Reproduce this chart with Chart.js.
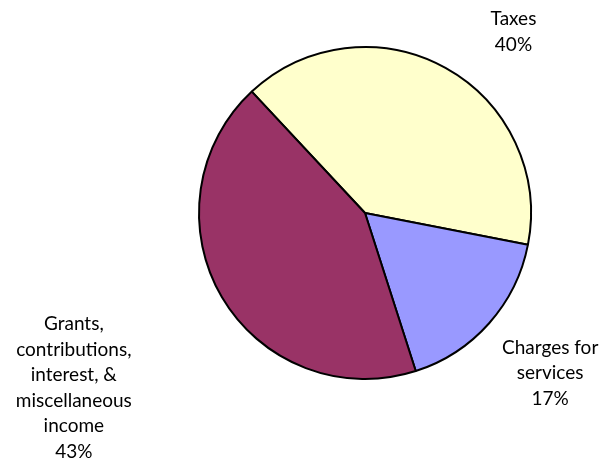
<!DOCTYPE html>
<html>
<head>
<meta charset="utf-8">
<script src="https://cdn.jsdelivr.net/npm/chart.js@4"></script>
<style>
  html, body { margin: 0; padding: 0; background: #fff; }
  #wrap { width: 605px; height: 462px; }
</style>
</head>
<body>
<div id="wrap"><canvas id="revenueChart"></canvas></div>
<script>
// Revenue sources
const categories = [
    ['Taxes'],
    ['Charges for', 'services'],
    ['Grants,', 'contributions,', 'interest, &', 'miscellaneous', 'income']
];
const shares = [40, 17, 43];
const sliceColors = ['#FFFFCC', '#9999FF', '#993366'];

// where each label sits, relative to the slice's outer edge at its mid angle
const labelShift = [[68, -36], [61, 50], [-148, 91]];

const outsideLabels = {
    id: 'outsideLabels',
    afterDatasetsDraw(chart) {
        const c = chart.ctx;
        const meta = chart.getDatasetMeta(0);
        c.save();
        c.font = '19px Lato';
        c.fillStyle = '#000';
        c.textAlign = 'center';
        c.textBaseline = 'middle';
        const lineH = 25.5;
        meta.data.forEach((arc, i) => {
            const p = arc.getProps(['x', 'y', 'startAngle', 'endAngle', 'outerRadius'], true);
            const mid = (p.startAngle + p.endAngle) / 2;
            const ax = p.x + Math.cos(mid) * p.outerRadius + labelShift[i][0];
            const ay = p.y + Math.sin(mid) * p.outerRadius + labelShift[i][1];
            const lines = categories[i].concat([shares[i] + '%']);
            const top = ay - (lines.length - 1) * lineH / 2;
            lines.forEach((t, k) => c.fillText(t, ax, top + k * lineH));
        });
        c.restore();
    }
};

const ctx = document.getElementById('revenueChart').getContext('2d');
const revenueChart = new Chart(ctx, {
    type: 'pie',
    data: {
        labels: categories.map(l => l.join(' ')),
        datasets: [{
            data: shares,
            backgroundColor: sliceColors,
            borderColor: '#000',
            borderWidth: 2
        }]
    },
    options: {
        responsive: true,
        maintainAspectRatio: false,
        animation: false,
        rotation: -43,
        radius: 166,
        layout: { padding: { left: 125, right: 0, top: 0, bottom: 36 } },
        plugins: {
            legend: { display: false },
            tooltip: { enabled: false }
        }
    },
    plugins: [outsideLabels]
});
</script>
</body>
</html>
